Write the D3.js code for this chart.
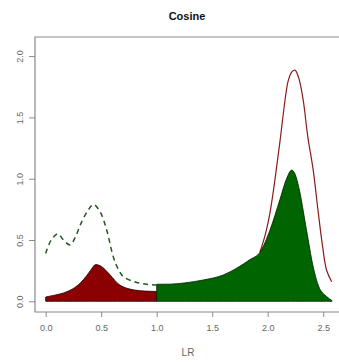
<!DOCTYPE html>
<html>
<head>
<meta charset="utf-8">
<script src="https://cdn.jsdelivr.net/npm/d3@7"></script>
<style>
  body { margin: 0; background: #fff; }
  svg { display: block; font-family: "Liberation Sans", Arial, sans-serif; }
</style>
</head>
<body>
<div id="chart"></div>
<script>
// data
const xTicks = [0, 0.5, 1, 1.5, 2, 2.5];
const yTicks = [0, 0.5, 1, 1.5, 2];

// red filled density, LR < 1
const redX = [0, 0.08, 0.16, 0.24, 0.31, 0.37, 0.41, 0.45, 0.5, 0.55, 0.6, 0.65, 0.72, 0.8, 0.9, 1.0];
const redY = [0.035, 0.05, 0.068, 0.1, 0.148, 0.21, 0.26, 0.30, 0.285, 0.245, 0.195, 0.145, 0.11, 0.092, 0.083, 0.08];

// green dashed density, LR < 1
const dashX = [0, 0.05, 0.11, 0.16, 0.22, 0.27, 0.32, 0.38, 0.43, 0.49, 0.55, 0.61, 0.66, 0.7, 0.78, 0.85, 0.92, 1.0];
const dashY = [0.39, 0.5, 0.55, 0.5, 0.46, 0.53, 0.64, 0.74, 0.79, 0.73, 0.58, 0.36, 0.25, 0.2, 0.165, 0.147, 0.138, 0.133];

// green filled density, LR > 1
const greenX = [1.0, 1.12, 1.25, 1.42, 1.6, 1.72, 1.84, 1.93, 2.02, 2.11, 2.17, 2.216, 2.25, 2.28, 2.35, 2.41, 2.46, 2.53, 2.58];
const greenY = [0.139, 0.14, 0.15, 0.174, 0.215, 0.27, 0.34, 0.40, 0.58, 0.83, 1.0, 1.07, 1.03, 0.93, 0.58, 0.28, 0.12, 0.04, 0.005];

// red outline density, LR > 1
const lineX = [1.93, 1.98, 2.02, 2.065, 2.11, 2.156, 2.185, 2.216, 2.246, 2.28, 2.32, 2.36, 2.41, 2.456, 2.495, 2.53, 2.576];
const lineY = [0.4, 0.55, 0.72, 0.99, 1.3, 1.64, 1.8, 1.87, 1.886, 1.82, 1.64, 1.35, 1.07, 0.72, 0.445, 0.255, 0.16];

const W = 339, H = 362;
const boxL = 35, boxT = 37, boxB = 312;
const axisCol = "#8a8a8a", textCol = "#666";

const svg = d3.select("#chart").append("svg")
  .attr("width", W)
  .attr("height", H);

const x = d3.scaleLinear().domain([0, 2.5]).range([45.7, 323.2]);
const y = d3.scaleLinear().domain([0, 2]).range([301.3, 56.1]);

const zip = (xs, ys) => xs.map((v, i) => [v, ys[i]]);

// fills
const area = d3.area()
  .x(d => x(d[0]))
  .y0(y(0))
  .y1(d => y(d[1]))
  .curve(d3.curveMonotoneX);

const line = d3.line()
  .x(d => x(d[0]))
  .y(d => y(d[1]))
  .curve(d3.curveCatmullRom);

svg.append("path")
  .attr("d", line(zip(lineX, lineY)))
  .attr("fill", "none")
  .attr("stroke", "#8b1a1a")
  .attr("stroke-width", 1.2);

svg.append("path")
  .attr("d", area(zip(redX, redY)) )
  .attr("fill", "#8b0000")
  .attr("stroke", "#1a0000")
  .attr("stroke-width", 0.8);

svg.append("path")
  .attr("d", area(zip(greenX, greenY)))
  .attr("fill", "#006400")
  .attr("stroke", "#001a00")
  .attr("stroke-width", 0.8);

svg.append("path")
  .attr("d", line(zip(dashX, dashY)))
  .attr("fill", "none")
  .attr("stroke", "#1f5a1f")
  .attr("stroke-width", 1.5)
  .attr("stroke-dasharray", "5,4");

// box lines (left, top, bottom)
svg.append("path")
  .attr("d", `M${W},${boxT}H${boxL}V${boxB}H${W}`)
  .attr("fill", "none")
  .attr("stroke", axisCol)
  .attr("stroke-width", 1.2);

// x axis
const gx = svg.append("g")
  .attr("transform", `translate(0,${boxB})`)
  .call(d3.axisBottom(x).tickValues(xTicks).tickSize(5).tickFormat(d3.format(".1f")));
gx.select(".domain").remove();
gx.selectAll("line").attr("stroke", axisCol);
gx.selectAll("text")
  .attr("y", 13)
  .attr("fill", textCol)
  .style("font-size", "9px");

// y axis
const gy = svg.append("g")
  .attr("transform", `translate(${boxL},0)`)
  .call(d3.axisLeft(y).tickValues(yTicks).tickSize(6).tickFormat(d3.format(".1f")));
gy.select(".domain").remove();
gy.selectAll("line").attr("stroke", axisCol);
gy.selectAll("text")
  .attr("x", 0)
  .attr("y", -12)
  .attr("dy", null)
  .attr("transform", "rotate(-90)")
  .attr("text-anchor", "middle")
  .attr("fill", textCol)
  .style("font-size", "9px");

// title and axis label
svg.append("text")
  .attr("x", 187)
  .attr("y", 20)
  .attr("text-anchor", "middle")
  .style("font-size", "11px")
  .style("font-weight", "bold")
  .attr("fill", "#111")
  .text("Cosine");

svg.append("text")
  .attr("x", 188)
  .attr("y", 356)
  .attr("text-anchor", "middle")
  .style("font-size", "10px")
  .attr("fill", textCol)
  .text("LR");
</script>
</body>
</html>
